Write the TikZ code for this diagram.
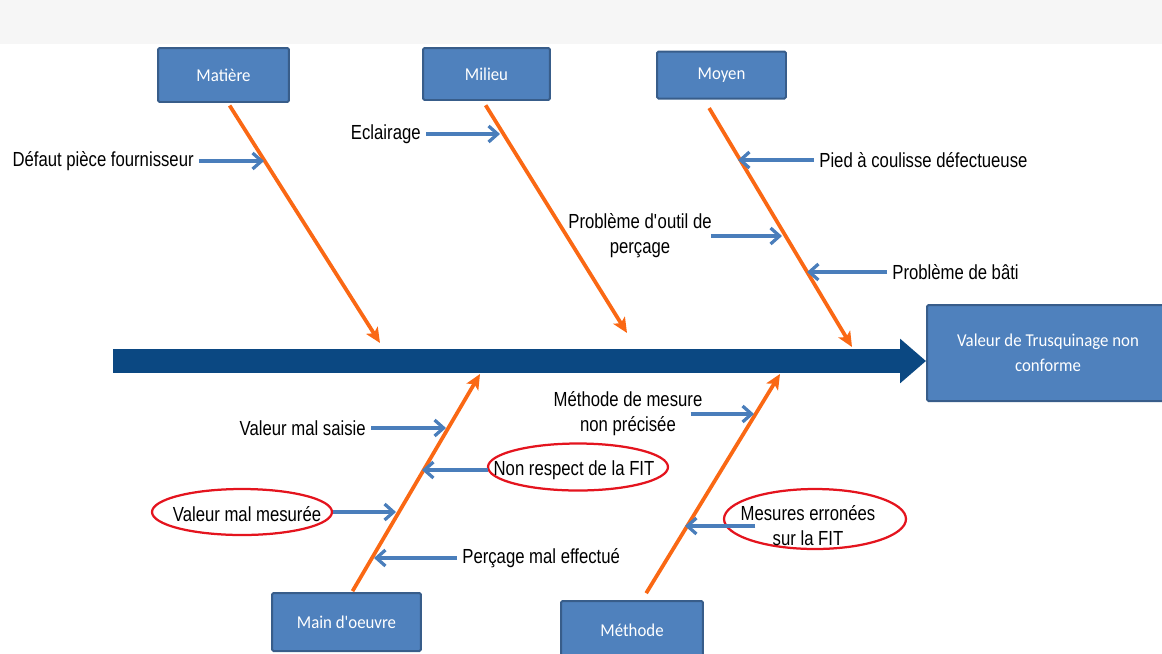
\documentclass[tikz,border=0pt]{standalone}
\usepackage{fontspec}
\setmainfont[FakeStretch=0.82]{Liberation Sans}
\newfontfamily\boxfont[FakeStretch=0.93]{Carlito}
\usetikzlibrary{arrows.meta,shapes.geometric}

\definecolor{boxblue}{RGB}{79,129,189}
\definecolor{boxedge}{RGB}{56,93,138}
\definecolor{bonecol}{RGB}{250,104,20}
\definecolor{arrowblue}{RGB}{74,126,187}
\definecolor{spinecol}{RGB}{11,72,130}
\definecolor{ringred}{RGB}{228,20,30}
\definecolor{bandgray}{RGB}{246,246,246}

\begin{document}
\begin{tikzpicture}[x=0.02cm, y=-0.02cm,
    catbox/.style={
        draw=boxedge,
        fill=boxblue,
        line width=0.04cm,
        rounded corners=0.03cm,
        text=white,
        font=\boxfont\fontsize{10.3}{14.2}\selectfont,
        align=center
    },
    effectbox/.style={
        catbox,
        minimum width=4.84cm,
        minimum height=1.92cm
    },
    causetxt/.style={
        inner sep=0.1cm,
        align=center,
        font=\fontsize{11.6}{14.2}\selectfont
    },
    ring/.style={
        draw=ringred,
        line width=0.045cm,
        ellipse,
        inner sep=0pt
    },
    bone/.style={
        draw=bonecol,
        line width=0.075cm,
        -{Stealth[length=0.3cm, width=0.27cm, inset=0.07cm]}
    },
    causearr/.style={
        draw=arrowblue,
        line width=0.065cm,
        -{Straight Barb[length=0.18cm, width=0.32cm]}
    },
    spine/.style={
        draw=spinecol,
        line width=0.48cm,
        -{Triangle[length=0.52cm, width=0.86cm]}
    }
]
\useasboundingbox (0,0) rectangle (1162,653);
\fill[bandgray] (0,0) rectangle (1162,44);

% --- Categories ---
\node[catbox, minimum width=2.62cm, minimum height=1.08cm] (matiere) at (223.5,75) {Matière};
\node[catbox, minimum width=2.54cm, minimum height=1.04cm] (milieu) at (486.5,74) {Milieu};
\node[catbox, minimum width=2.58cm, minimum height=0.94cm] (moyen) at (721.5,75) {Moyen};
\node[catbox, minimum width=2.98cm, minimum height=1.16cm] (mainoeuvre) at (346.5,622) {Main d'oeuvre};
\node[catbox, minimum width=2.84cm, minimum height=1.16cm] (methode) at (632,630) {Méthode};

% --- Effect ---
\node[effectbox] (effet) at (1048,353) {Valeur de Trusquinage non\\conforme};

% --- Spine ---
\coordinate (tail) at (113,361);
\draw[spine] (tail) -- (effet.west |- tail);

% --- Bones ---
\coordinate (matiere-tip) at (380,343);
\coordinate (milieu-tip) at (627,333);
\coordinate (moyen-tip) at (852,347);
\coordinate (mainoeuvre-tip) at (480,374);
\coordinate (methode-tip) at (780,374);
\draw[bone, shorten <=0.06cm] ([xshift=0.09cm]matiere.south) -- (matiere-tip);
\draw[bone, shorten <=0.1cm] ([xshift=-0.07cm]milieu.south) -- (milieu-tip);
\draw[bone, shorten <=0.2cm] ([xshift=-0.35cm]moyen.south) -- (moyen-tip);
\draw[bone, shorten <=0.02cm] ([xshift=0.11cm]mainoeuvre.north) -- (mainoeuvre-tip);
\draw[bone, shorten <=0.16cm] ([xshift=0.2cm]methode.north) -- (methode-tip);

% --- Causes, top ---
\node[causetxt, anchor=east] (defaut) at (199,161) {Défaut pièce fournisseur};
\node[causetxt, anchor=east] (eclairage) at (426,134) {Eclairage};
\node[causetxt, anchor=west] (pied) at (814,160) {Pied à coulisse défectueuse};
\node[causetxt] (outil) at (640,236) {Problème d\textquotesingle outil de\\perçage};
\node[causetxt, anchor=west] (bati) at (887,272) {Problème de bâti};

\coordinate (defaut-end) at (264,161);
\coordinate (eclairage-end) at (500,134);
\coordinate (pied-end) at (738,160);
\coordinate (outil-end) at (782,236);
\coordinate (bati-end) at (807,272);
\draw[causearr] (defaut.east) -- (defaut-end);
\draw[causearr] (eclairage.east) -- (eclairage-end);
\draw[causearr] (pied.west) -- (pied-end);
\draw[causearr] ([xshift=-0.12cm]outil.east) -- (outil-end);
\draw[causearr] (bati.west) -- (bati-end);

% --- Causes, bottom ---
\node[causetxt, anchor=east] (saisie) at (371,428) {Valeur mal saisie};
\node[ring, minimum width=3.6cm, minimum height=0.94cm] (nrfit) at (578,467) {};
\node[causetxt] (nrfit-txt) at (574,470) {Non respect de la FIT};
\node[ring, minimum width=3.6cm, minimum height=0.92cm] (mesuree) at (242,512) {};
\node[causetxt] (mesuree-txt) at (247,514) {Valeur mal mesurée};
\node[causetxt, anchor=west] (percage) at (457,558) {Perçage mal effectué};
\node[causetxt] (mesure) at (628,414) {Méthode de mesure\\non précisée};
\node[ring, minimum width=3.64cm, minimum height=1.2cm] (erron) at (815,519) {};
\node[causetxt] (erron-txt) at (808,526) {Mesures erronées\\sur la FIT};

\coordinate (saisie-end) at (446,428);
\coordinate (nrfit-end) at (422,470);
\coordinate (mesuree-end) at (396,512);
\coordinate (percage-end) at (374,558);
\coordinate (mesure-end) at (754,414);
\coordinate (erron-end) at (685,526);
\draw[causearr] (saisie.east) -- (saisie-end);
\draw[causearr] (nrfit-txt.west) -- (nrfit-end);
\draw[causearr] (mesuree.east) -- (mesuree-end);
\draw[causearr] (percage.west) -- (percage-end);
\draw[causearr] ([xshift=-0.34cm]mesure.east) -- (mesure-end);
\draw[causearr] ([xshift=0.4cm]erron-txt.west) -- (erron-end);

\end{tikzpicture}
\end{document}
